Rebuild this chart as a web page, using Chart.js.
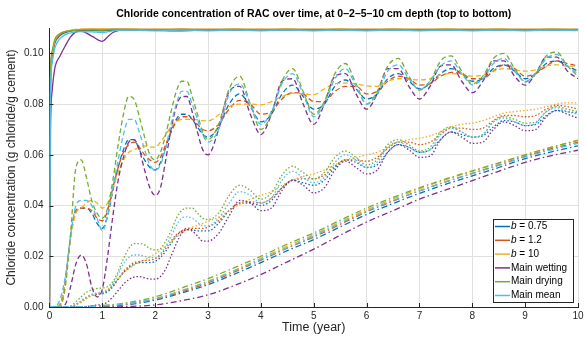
<!DOCTYPE html>
<html>
<head>
<meta charset="utf-8">
<script src="https://cdn.jsdelivr.net/npm/chart.js@4.4.1/dist/chart.umd.min.js"></script>
<style>
  html, body { margin: 0; padding: 0; background: #fff; }
  canvas { display: block; }
</style>
</head>
<body>
<canvas id="chart" width="584" height="337"></canvas>
<script>
const chartTitle = "Chloride concentration of RAC over time, at 0\u20132\u20135\u201310 cm depth (top to bottom)";
const xLabel = "Time (year)";
const yLabel = "Chloride concentration (g chloride/g cement)";
const models = ["b = 0.75", "b = 1.2", "b = 10", "Main wetting", "Main drying", "Main mean"];
const colors = ["#0072BD", "#D95319", "#EDB120", "#7E2F8E", "#77AC30", "#4DBEEE"];
const xTicks = [0, 1, 2, 3, 4, 5, 6, 7, 8, 9, 10];
const yTicks = [0, 0.02, 0.04, 0.06, 0.08, 0.10];

// time axes (years)
const yearsSurface = [0, 0.02, 0.05, 0.1, 0.2, 0.3, 0.4, 0.5, 0.6, 0.8, 1.0, 1.1, 1.2, 1.3, 1.5, 2, 2.5, 3, 3.5, 4, 4.5, 5, 5.5, 6, 6.5, 7, 7.5, 8, 8.5, 9, 9.5, 10];
const yearsWave = [0, 0.1, 0.2, 0.3, 0.4, 0.5, 0.6, 0.7, 0.8, 0.9, 1.0, 1.1, 1.2, 1.3, 1.4, 1.5, 1.6, 1.7, 1.8, 1.9, 2.0, 2.1, 2.2, 2.3, 2.4, 2.5, 2.6, 2.7, 2.8, 2.9, 3.0,
  3.2, 3.4, 3.6, 3.8, 4.0, 4.2, 4.4, 4.6, 4.8, 5.0, 5.2, 5.4, 5.6, 5.8, 6.0, 6.2, 6.4, 6.6, 6.8, 7.0,
  7.2, 7.4, 7.6, 7.8, 8.0, 8.2, 8.4, 8.6, 8.8, 9.0, 9.2, 9.4, 9.6, 9.8, 10];
const yearsDeep = [0, 0.5, 1, 1.5, 2, 2.5, 3, 3.5, 4, 4.5, 5, 5.5, 6, 6.5, 7, 7.5, 8, 8.5, 9, 9.5, 10];

// 0 cm depth
const surfB075 = [0, 0.088, 0.099, 0.104, 0.107, 0.1082, 0.1088, 0.109, 0.1091, 0.109, 0.1089, 0.109, 0.1091, 0.1092, 0.1093, 0.1092, 0.1093, 0.1092, 0.1093, 0.1092, 0.1093, 0.1092, 0.1093, 0.1092, 0.1093, 0.1092, 0.1093, 0.1092, 0.1093, 0.1092, 0.1093, 0.1092];
const surfB12 = [0, 0.089, 0.0995, 0.1045, 0.1075, 0.1086, 0.109, 0.1093, 0.1094, 0.1095, 0.1094, 0.1094, 0.1095, 0.1095, 0.1095, 0.1094, 0.1095, 0.1094, 0.1095, 0.1094, 0.1095, 0.1094, 0.1095, 0.1094, 0.1095, 0.1094, 0.1095, 0.1094, 0.1095, 0.1094, 0.1095, 0.1094];
const surfB10 = [0, 0.090, 0.100, 0.105, 0.1077, 0.1087, 0.1091, 0.1094, 0.1095, 0.1096, 0.1096, 0.1096, 0.1096, 0.1095, 0.1095, 0.1095, 0.1095, 0.1095, 0.1095, 0.1095, 0.1095, 0.1095, 0.1095, 0.1095, 0.1095, 0.1095, 0.1095, 0.1095, 0.1095, 0.1095, 0.1095, 0.1095];
const surfWet = [0, 0.070, 0.085, 0.094, 0.099, 0.103, 0.1065, 0.1085, 0.1088, 0.1068, 0.1047, 0.1065, 0.1082, 0.109, 0.1093, 0.1091, 0.1089, 0.1092, 0.1092, 0.1091, 0.1093, 0.1092, 0.1093, 0.1092, 0.1093, 0.1092, 0.1093, 0.1092, 0.1093, 0.1092, 0.1093, 0.1092];
const surfDry = [0, 0.092, 0.101, 0.1055, 0.1078, 0.1086, 0.109, 0.1092, 0.1093, 0.1093, 0.1092, 0.1093, 0.1094, 0.1094, 0.1094, 0.1093, 0.1094, 0.1093, 0.1094, 0.1093, 0.1094, 0.1093, 0.1094, 0.1093, 0.1094, 0.1093, 0.1094, 0.1093, 0.1094, 0.1093, 0.1094, 0.1093];
const surfMean = [0, 0.084, 0.096, 0.102, 0.1058, 0.1074, 0.1081, 0.1085, 0.1086, 0.1085, 0.1082, 0.1085, 0.1089, 0.1091, 0.1092, 0.1089, 0.1092, 0.1089, 0.1092, 0.1089, 0.1092, 0.1089, 0.1092, 0.1089, 0.1092, 0.1089, 0.1092, 0.1089, 0.1092, 0.1089, 0.1092, 0.1090];

// 2 cm depth
const cm2B075 = [0, 0, 0.001, 0.010, 0.028, 0.038, 0.039, 0.039, 0.037, 0.033, 0.031, 0.036, 0.046, 0.055, 0.062, 0.066, 0.066, 0.062, 0.058, 0.055, 0.054, 0.057, 0.063, 0.069, 0.074, 0.076, 0.076, 0.074, 0.071, 0.068, 0.067,
  0.071, 0.080, 0.084, 0.079, 0.073, 0.076, 0.084, 0.0875, 0.083, 0.078, 0.080, 0.087, 0.0895, 0.086, 0.082, 0.084, 0.090, 0.092, 0.089, 0.086, 0.088, 0.092, 0.094, 0.092, 0.089, 0.090, 0.094, 0.0955, 0.093, 0.090, 0.092, 0.096, 0.097, 0.095, 0.093];
const cm2B12 = [0, 0, 0.001, 0.010, 0.028, 0.038, 0.039, 0.039, 0.038, 0.035, 0.034, 0.038, 0.047, 0.055, 0.061, 0.064, 0.065, 0.063, 0.060, 0.058, 0.057, 0.059, 0.064, 0.069, 0.073, 0.075, 0.075, 0.074, 0.072, 0.070, 0.0695,
  0.072, 0.078, 0.0815, 0.080, 0.076, 0.077, 0.082, 0.0845, 0.084, 0.081, 0.081, 0.085, 0.087, 0.087, 0.084, 0.085, 0.089, 0.091, 0.090, 0.0875, 0.088, 0.091, 0.0925, 0.092, 0.090, 0.090, 0.093, 0.0955, 0.094, 0.091, 0.092, 0.095, 0.097, 0.096, 0.095];
const cm2B10 = [0, 0, 0.001, 0.010, 0.027, 0.037, 0.039, 0.041, 0.042, 0.041, 0.039, 0.041, 0.047, 0.053, 0.058, 0.061, 0.062, 0.063, 0.0635, 0.063, 0.063, 0.065, 0.068, 0.071, 0.073, 0.074, 0.074, 0.074, 0.0738, 0.0735, 0.0734,
  0.0757, 0.079, 0.080, 0.080, 0.0797, 0.081, 0.083, 0.0843, 0.084, 0.0837, 0.086, 0.088, 0.0883, 0.088, 0.0872, 0.087, 0.089, 0.090, 0.0898, 0.0895, 0.090, 0.0915, 0.092, 0.0918, 0.091, 0.0915, 0.093, 0.094, 0.0935, 0.093, 0.0935, 0.095, 0.0955, 0.095, 0.095];
const cm2Wet = [0, 0, 0, 0.001, 0.008, 0.017, 0.0205, 0.017, 0.008, 0.004, 0.007, 0.020, 0.036, 0.050, 0.059, 0.065, 0.066, 0.062, 0.054, 0.047, 0.044, 0.047, 0.058, 0.070, 0.079, 0.083, 0.083, 0.077, 0.069, 0.062, 0.060,
  0.070, 0.085, 0.087, 0.076, 0.068, 0.076, 0.089, 0.090, 0.080, 0.072, 0.080, 0.091, 0.092, 0.084, 0.078, 0.084, 0.094, 0.094, 0.087, 0.082, 0.087, 0.095, 0.0955, 0.089, 0.0845, 0.089, 0.097, 0.097, 0.091, 0.0875, 0.092, 0.0985, 0.0985, 0.093, 0.090];
const cm2Dry = [0, 0, 0.0003, 0.008, 0.029, 0.055, 0.058, 0.051, 0.042, 0.037, 0.035, 0.039, 0.050, 0.064, 0.076, 0.083, 0.082, 0.075, 0.067, 0.060, 0.058, 0.061, 0.068, 0.077, 0.085, 0.089, 0.089, 0.083, 0.076, 0.069, 0.066,
  0.072, 0.086, 0.091, 0.080, 0.070, 0.076, 0.089, 0.094, 0.085, 0.076, 0.081, 0.092, 0.096, 0.088, 0.080, 0.085, 0.095, 0.098, 0.091, 0.0855, 0.089, 0.097, 0.099, 0.093, 0.088, 0.091, 0.098, 0.100, 0.094, 0.0887, 0.092, 0.099, 0.1005, 0.095, 0.091];
const cm2Mean = [0, 0.0003, 0.003, 0.012, 0.028, 0.040, 0.042, 0.042, 0.040, 0.035, 0.030, 0.036, 0.047, 0.058, 0.068, 0.074, 0.074, 0.069, 0.062, 0.056, 0.054, 0.056, 0.063, 0.072, 0.080, 0.085, 0.085, 0.080, 0.074, 0.068, 0.065,
  0.070, 0.084, 0.088, 0.080, 0.072, 0.077, 0.088, 0.092, 0.084, 0.075, 0.080, 0.090, 0.094, 0.087, 0.080, 0.084, 0.093, 0.0955, 0.090, 0.0857, 0.089, 0.095, 0.097, 0.092, 0.0876, 0.090, 0.096, 0.098, 0.093, 0.089, 0.092, 0.098, 0.0995, 0.095, 0.092];

// 5 cm depth
const cm5B075 = [0, 0, 0, 0, 0, 0.001, 0.002, 0.0035, 0.0045, 0.005, 0.0052, 0.006, 0.008, 0.011, 0.0135, 0.0155, 0.0168, 0.0175, 0.0175, 0.0175, 0.018, 0.0195, 0.022, 0.025, 0.028, 0.0298, 0.0305, 0.0305, 0.030, 0.030, 0.030,
  0.033, 0.038, 0.041, 0.041, 0.040, 0.042, 0.047, 0.050, 0.049, 0.048, 0.050, 0.055, 0.058, 0.057, 0.055, 0.056, 0.061, 0.064, 0.063, 0.061, 0.062, 0.066, 0.069, 0.068, 0.067, 0.0675, 0.071, 0.0735, 0.073, 0.0715, 0.072, 0.0755, 0.0775, 0.077, 0.0765];
const cm5B12 = [0, 0, 0, 0, 0, 0.001, 0.002, 0.0035, 0.0045, 0.0052, 0.0056, 0.0065, 0.0085, 0.011, 0.014, 0.016, 0.0175, 0.018, 0.0183, 0.0185, 0.019, 0.0205, 0.023, 0.026, 0.0285, 0.030, 0.031, 0.031, 0.031, 0.031, 0.0315,
  0.034, 0.038, 0.041, 0.0415, 0.041, 0.043, 0.047, 0.050, 0.0505, 0.0505, 0.052, 0.0555, 0.058, 0.058, 0.0575, 0.059, 0.0625, 0.065, 0.065, 0.064, 0.065, 0.068, 0.0705, 0.0705, 0.070, 0.0705, 0.0735, 0.0755, 0.0755, 0.075, 0.0755, 0.078, 0.0795, 0.079, 0.078];
const cm5B10 = [0, 0, 0, 0, 0, 0.001, 0.002, 0.0035, 0.0045, 0.0053, 0.006, 0.007, 0.009, 0.011, 0.0135, 0.015, 0.0165, 0.0175, 0.0185, 0.0198, 0.021, 0.0225, 0.024, 0.0258, 0.0275, 0.029, 0.0305, 0.0315, 0.0322, 0.033, 0.0338,
  0.0355, 0.038, 0.0405, 0.0425, 0.044, 0.0455, 0.048, 0.050, 0.0515, 0.0525, 0.054, 0.056, 0.058, 0.059, 0.060, 0.061, 0.063, 0.065, 0.066, 0.0665, 0.0675, 0.069, 0.071, 0.072, 0.0725, 0.0735, 0.075, 0.0765, 0.077, 0.0775, 0.078, 0.079, 0.080, 0.0805, 0.0805];
const cm5Wet = [0, 0, 0, 0, 0, 0, 0, 0.0002, 0.0005, 0.0008, 0.001, 0.002, 0.004, 0.0065, 0.009, 0.0108, 0.0118, 0.012, 0.0115, 0.011, 0.011, 0.012, 0.015, 0.020, 0.025, 0.029, 0.0305, 0.030, 0.028, 0.026, 0.026,
  0.029, 0.036, 0.042, 0.041, 0.038, 0.039, 0.046, 0.050, 0.048, 0.045, 0.047, 0.054, 0.0575, 0.055, 0.0525, 0.054, 0.061, 0.064, 0.062, 0.059, 0.0595, 0.066, 0.069, 0.067, 0.0645, 0.065, 0.070, 0.073, 0.0715, 0.0695, 0.070, 0.075, 0.0775, 0.076, 0.0744];
const cm5Dry = [0, 0, 0, 0, 0.0005, 0.002, 0.004, 0.0058, 0.0068, 0.0073, 0.0075, 0.008, 0.010, 0.014, 0.019, 0.023, 0.025, 0.025, 0.0245, 0.023, 0.0225, 0.023, 0.026, 0.030, 0.035, 0.038, 0.039, 0.039, 0.037, 0.035, 0.0345,
  0.037, 0.044, 0.048, 0.046, 0.0425, 0.045, 0.052, 0.0555, 0.053, 0.0505, 0.053, 0.059, 0.0615, 0.059, 0.056, 0.058, 0.064, 0.066, 0.064, 0.0615, 0.063, 0.069, 0.071, 0.069, 0.067, 0.068, 0.073, 0.075, 0.074, 0.0725, 0.073, 0.077, 0.079, 0.078, 0.077];
const cm5Mean = [0, 0, 0, 0, 0, 0.001, 0.0025, 0.004, 0.005, 0.0055, 0.0055, 0.0065, 0.009, 0.013, 0.017, 0.0195, 0.0205, 0.0205, 0.020, 0.0195, 0.0195, 0.021, 0.024, 0.028, 0.032, 0.035, 0.0355, 0.035, 0.0335, 0.032, 0.032,
  0.035, 0.041, 0.0455, 0.044, 0.041, 0.043, 0.050, 0.0535, 0.051, 0.049, 0.051, 0.057, 0.060, 0.058, 0.055, 0.057, 0.063, 0.065, 0.063, 0.061, 0.062, 0.068, 0.0705, 0.069, 0.067, 0.068, 0.073, 0.0745, 0.073, 0.0715, 0.0725, 0.077, 0.0785, 0.077, 0.076];

// 10 cm depth
const cm10B075 = [0, 0, 0.0002, 0.001, 0.0027, 0.0055, 0.0088, 0.013, 0.0175, 0.0222, 0.0266, 0.0316, 0.0365, 0.0408, 0.0448, 0.0484, 0.0517, 0.0550, 0.0585, 0.0612, 0.0635];
const cm10B12 = [0, 0, 0.0003, 0.0012, 0.003, 0.006, 0.0095, 0.0138, 0.0185, 0.0232, 0.0276, 0.0326, 0.0375, 0.0418, 0.0458, 0.0494, 0.0527, 0.0560, 0.0594, 0.0624, 0.0650];
const cm10B10 = [0, 0.0001, 0.0004, 0.0014, 0.0033, 0.0065, 0.0102, 0.0145, 0.0192, 0.024, 0.0285, 0.0335, 0.0383, 0.0426, 0.0466, 0.0502, 0.0535, 0.0567, 0.0600, 0.0630, 0.0658];
const cm10Wet = [0, 0, 0, 0.0002, 0.0008, 0.0025, 0.0048, 0.0085, 0.0128, 0.0178, 0.0228, 0.0283, 0.0335, 0.0380, 0.0425, 0.0462, 0.0498, 0.0535, 0.0570, 0.0597, 0.0618];
const cm10Dry = [0, 0.0001, 0.0006, 0.0018, 0.004, 0.0075, 0.0112, 0.0155, 0.020, 0.0248, 0.0292, 0.0342, 0.0390, 0.0432, 0.0470, 0.0505, 0.0537, 0.0568, 0.0600, 0.0630, 0.0657];
const cm10Mean = [0, 0.0001, 0.0004, 0.0014, 0.0032, 0.0064, 0.0100, 0.0142, 0.0188, 0.0234, 0.0280, 0.0330, 0.0378, 0.0420, 0.0458, 0.0493, 0.0526, 0.0558, 0.0592, 0.0620, 0.0645];

const depthGroups = [
  { name: "0 cm", years: yearsSurface, dash: [], values: [surfB075, surfB12, surfB10, surfWet, surfDry, surfMean] },
  { name: "2 cm", years: yearsWave, dash: [5, 3], values: [cm2B075, cm2B12, cm2B10, cm2Wet, cm2Dry, cm2Mean] },
  { name: "5 cm", years: yearsWave, dash: [1.5, 2], values: [cm5B075, cm5B12, cm5B10, cm5Wet, cm5Dry, cm5Mean] },
  { name: "10 cm", years: yearsDeep, dash: [6, 3, 1.5, 3], values: [cm10B075, cm10B12, cm10B10, cm10Wet, cm10Dry, cm10Mean] }
];

const datasets = [];
models.forEach((m, mi) => {
  depthGroups.forEach(g => {
    datasets.push({
      label: m + " (" + g.name + ")",
      data: g.years.map((t, i) => ({ x: t, y: g.values[mi][i] })),
      borderColor: colors[mi],
      borderDash: g.dash,
      borderWidth: 1.3,
      pointRadius: 0,
      fill: false,
      cubicInterpolationMode: "monotone"
    });
  });
});
// later series on top, like the original plot order
datasets.forEach((d, i) => { d.order = datasets.length - i; });

const FONT = '"Liberation Sans", Arial, sans-serif';
Chart.defaults.font.family = FONT;
Chart.defaults.font.size = 10;
Chart.defaults.color = "#262626";

const decorations = {
  id: "decorations",
  afterDraw(chart) {
    const { ctx, chartArea } = chart;
    const xs = chart.scales.x, ys = chart.scales.y;
    ctx.save();
    // inward tick marks
    ctx.strokeStyle = "#262626";
    ctx.lineWidth = 1;
    ctx.beginPath();
    xTicks.forEach(v => {
      const px = Math.round(xs.getPixelForValue(v)) + 0.5;
      ctx.moveTo(px, chartArea.bottom);
      ctx.lineTo(px, chartArea.bottom - 4);
    });
    yTicks.forEach(v => {
      const py = Math.round(ys.getPixelForValue(v)) + 0.5;
      ctx.moveTo(chartArea.left, py);
      ctx.lineTo(chartArea.left + 4, py);
    });
    ctx.stroke();

    // last x tick label (kept out of the layout so the axes reach the right edge)
    ctx.fillStyle = "#262626";
    ctx.font = "10px " + FONT;
    ctx.textAlign = "center";
    ctx.textBaseline = "middle";
    const last = xTicks[xTicks.length - 1];
    ctx.fillText(String(last), xs.getPixelForValue(last), chartArea.bottom + 9);

    // axis titles
    ctx.font = "12.5px " + FONT;
    ctx.fillText(xLabel, (chartArea.left + chartArea.right) / 2, 328);
    ctx.save();
    ctx.translate(12, (chartArea.top + chartArea.bottom) / 2);
    ctx.rotate(-Math.PI / 2);
    ctx.font = "12px " + FONT;
    ctx.fillText(yLabel, 0, 0);
    ctx.restore();

    // title centred over the axes
    ctx.fillStyle = "#000";
    ctx.font = "bold 10.5px " + FONT;
    ctx.fillText(chartTitle, (chartArea.left + chartArea.right) / 2, 14);

    // legend in the lower right corner
    const w = 80, h = 83, rowH = 13.8;
    const x0 = chartArea.right - w - 5, y0 = chartArea.bottom - h - 5;
    ctx.fillStyle = "#fff";
    ctx.fillRect(x0, y0, w, h);
    ctx.strokeStyle = "#262626";
    ctx.lineWidth = 1;
    ctx.strokeRect(Math.round(x0) + 0.5, Math.round(y0) + 0.5, w, h);
    ctx.textAlign = "left";
    models.forEach((name, i) => {
      const y = y0 + 7.5 + i * rowH;
      ctx.strokeStyle = colors[i];
      ctx.lineWidth = 1.5;
      ctx.beginPath();
      ctx.moveTo(x0 + 2, y);
      ctx.lineTo(x0 + 17, y);
      ctx.stroke();
      ctx.fillStyle = "#000";
      let tx = x0 + 18;
      let rest = name;
      if (name.startsWith("b ")) {
        ctx.font = "italic 10px " + FONT;
        ctx.fillText("b", tx, y);
        tx += ctx.measureText("b").width;
        rest = name.slice(1);
      }
      ctx.font = "10px " + FONT;
      ctx.fillText(rest, tx, y);
    });
    ctx.restore();
  }
};

new Chart(document.getElementById("chart").getContext("2d"), {
  type: "line",
  data: { datasets },
  options: {
    responsive: false,
    animation: false,
    layout: { padding: { top: 28, left: 18, right: 6, bottom: 12 } },
    plugins: { legend: { display: false }, tooltip: { enabled: false } },
    scales: {
      x: {
        type: "linear",
        min: 0, max: 10,
        afterBuildTicks: s => { s.ticks = xTicks.map(v => ({ value: v })); },
        ticks: { padding: 3, maxRotation: 0, callback: v => (v === 10 ? "" : String(v)) },
        grid: { color: "#e0e0e0", drawTicks: false },
        border: { color: "#262626" }
      },
      y: {
        min: 0, max: 0.11,
        afterBuildTicks: s => { s.ticks = yTicks.map(v => ({ value: v })); },
        ticks: { padding: 6, callback: v => v.toFixed(2) },
        grid: { color: "#e0e0e0", drawTicks: false },
        border: { color: "#262626" }
      }
    }
  },
  plugins: [decorations]
});
</script>
</body>
</html>
